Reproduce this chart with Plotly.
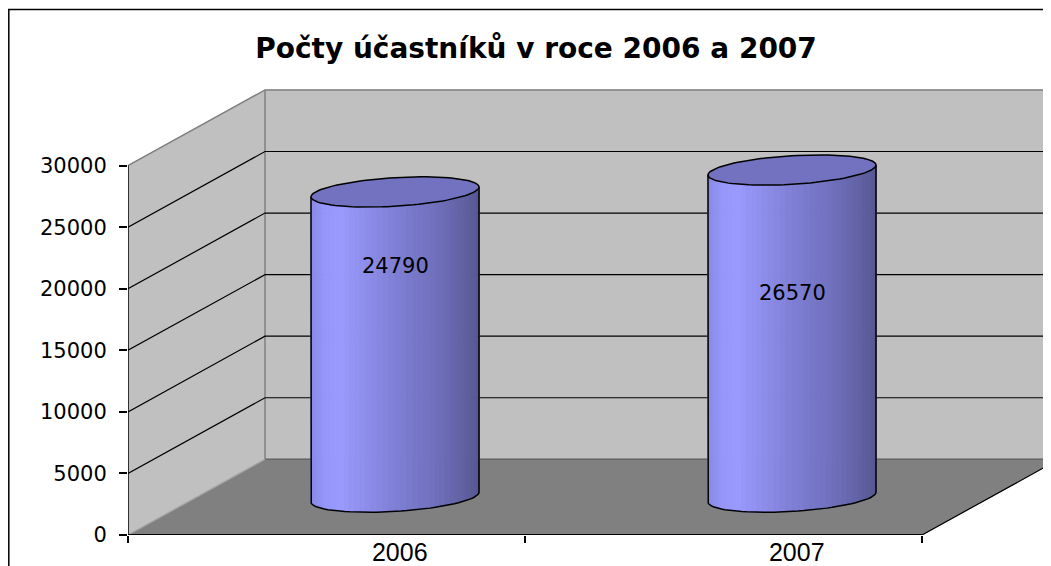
import numpy as np
import plotly.graph_objects as go

# ---------------- data ----------------
categories = ["2006", "2007"]
values = [24790, 26570]
y_ticks = [0, 5000, 10000, 15000, 20000, 25000, 30000]
title_text = "Počty účastníků v roce 2006 a 2007"

# label positions (fraction of bar height) as seen in the reference
label_frac = [0.757, 0.624]

# ---------------- layout geometry ----------------
# the page body has an 8px margin, so the figure is 8px smaller
W, H = 1043, 558
ML, MR, MT, MB = 120, 0, 72, 29
PX_X = 397.0                 # px per category unit
PX_Y = 371.0 / 30000.0       # px per value unit
plot_w = W - ML - MR
plot_h = H - MT - MB
x0 = -0.5
x_end = x0 + len(categories)
xr = [x0, x0 + plot_w / PX_X]
yr = [0, plot_h / PX_Y]
DX = 137.0 / PX_X            # depth offset (x units)
DY = 76.0 / PX_Y             # depth offset (y units)
YMAX = y_ticks[-1]

FONT = "Liberation Sans, Arial, sans-serif"
FONT_W = "DejaVu Sans, Verdana, sans-serif"
WALL = "#C0C0C0"
FLOOR = "#808080"

fig = go.Figure()


def poly(xs, ys, fill=None, line=None, width=1.0, closed=True):
    xs = list(xs)
    ys = list(ys)
    if closed:
        xs.append(xs[0])
        ys.append(ys[0])
    fig.add_trace(go.Scatter(
        x=xs, y=ys, mode="lines",
        fill="toself" if fill else None,
        fillcolor=fill,
        line=dict(color=line if line else (fill or "rgba(0,0,0,0)"),
                  width=width if line else (0.8 if fill else 0)),
        hoverinfo="skip", showlegend=False))


# back wall
poly([x0 + DX, x_end + DX, x_end + DX, x0 + DX],
     [DY, DY, YMAX + DY, YMAX + DY], fill=WALL)
# side wall
poly([x0, x0, x0 + DX, x0 + DX], [0, YMAX, YMAX + DY, DY], fill=WALL)
# floor
poly([x0, x_end, x_end + DX, x0 + DX], [0, 0, DY, DY], fill=FLOOR)

# wall edges
poly([x0, x0 + DX, x_end + DX], [YMAX, YMAX + DY, YMAX + DY],
     line="#808080", width=1.5, closed=False)
poly([x0 + DX, x0 + DX], [DY, YMAX + DY], line="#808080", width=1.5, closed=False)

# gridlines
for v in y_ticks[1:-1]:
    poly([x0, x0 + DX, x_end + DX], [v, v + DY, v + DY],
         line="black", width=1.2, closed=False)

# floor edges
poly([x0 + DX, x_end + DX], [DY, DY], line="#666666", width=1.5, closed=False)
poly([x0, x0 + DX], [0, DY], line="#A8A8A8", width=1.2, closed=False)
poly([x_end, x_end + DX], [0, DY], line="black", width=1.2, closed=False)

# ---------------- cylinders ----------------
A = 0.2          # radius along x (category units)
RZ = 0.2         # radius along depth (fraction of depth)
ZC = 0.5         # depth centre
t0 = np.arctan2(RZ * DX * PX_X, A * PX_X)  # silhouette angle


def cyl_pt(ci, t, h):
    z = ZC + RZ * np.sin(t)
    return ci + A * np.cos(t) + z * DX, h + z * DY


stops_f = [0.0, 0.08, 0.18, 0.5, 0.8, 1.0]
stops_c = [(138, 138, 230), (150, 150, 250), (154, 154, 255),
           (128, 128, 214), (108, 108, 182), (88, 88, 148)]


def shade(f):
    r = np.interp(f, stops_f, [c[0] for c in stops_c])
    g = np.interp(f, stops_f, [c[1] for c in stops_c])
    b = np.interp(f, stops_f, [c[2] for c in stops_c])
    return "rgb(%d,%d,%d)" % (r, g, b)


NS = 44
for i, val in enumerate(values):
    ts = np.linspace(t0 + np.pi, t0 + 2 * np.pi, NS + 1)
    xl, _ = cyl_pt(i, ts[0], 0)
    xrt, _ = cyl_pt(i, ts[-1], 0)
    for k in range(NS):
        ta, tb = ts[k], ts[k + 1]
        xa0, ya0 = cyl_pt(i, ta, 0)
        xb0, yb0 = cyl_pt(i, tb, 0)
        xa1, ya1 = cyl_pt(i, ta, val)
        xb1, yb1 = cyl_pt(i, tb, val)
        xm, _ = cyl_pt(i, 0.5 * (ta + tb), 0)
        f = (xm - xl) / (xrt - xl)
        poly([xa0, xb0, xb1, xa1], [ya0, yb0, yb1, ya1], fill=shade(f))
    # outline of body
    bx, by = cyl_pt(i, ts, 0)
    tx0, ty0 = cyl_pt(i, ts[0], val)
    tx1, ty1 = cyl_pt(i, ts[-1], val)
    poly([tx0] + list(bx) + [tx1], [ty0] + list(by) + [ty1],
         line="black", width=1.5, closed=False)
    # top ellipse
    tt = np.linspace(0, 2 * np.pi, 100)
    ex, ey = cyl_pt(i, tt, val)
    poly(ex, ey, fill="#7272C0", line="black", width=1.5, closed=False)

# front edge and y-axis line
poly([x0, x_end], [0, 0], line="black", width=2, closed=False)
poly([x0, x0], [0, YMAX], line="black", width=1.5, closed=False)

# data labels
for i, val in enumerate(values):
    fig.add_annotation(x=i + ZC * DX, y=val * label_frac[i] + ZC * DY,
                       text=str(val), showarrow=False,
                       font=dict(family=FONT_W, size=21, color="black"))

# outer chart border
fig.add_shape(type="rect", xref="paper", yref="paper",
              x0=(0.8 - ML) / plot_w, x1=1.02,
              y0=-0.2, y1=(H - MB - 1.2) / plot_h,
              line=dict(color="black", width=1.5), fillcolor="rgba(0,0,0,0)")

fig.update_layout(
    width=W, height=H,
    margin=dict(l=ML, r=MR, t=MT, b=MB, pad=0),
    paper_bgcolor="white", plot_bgcolor="white",
    showlegend=False,
    title=dict(text=title_text, x=528 / W, xanchor="center",
               y=1 - 40 / H, yanchor="middle",
               font=dict(family=FONT_W, size=28, color="black", weight="bold")),
    xaxis=dict(range=xr, showgrid=False, zeroline=False, showline=False,
               tickmode="array", tickvals=[x0 + k for k in range(len(categories) + 1)],
               ticktext=["" for _ in range(len(categories) + 1)],
               ticks="outside", ticklen=7, tickwidth=1.5, tickcolor="black",
               fixedrange=True),
    xaxis2=dict(range=xr, overlaying="x", side="bottom", showgrid=False,
                zeroline=False, showline=False, ticks="",
                tickmode="array",
                tickvals=[k + ZC * DX + 0.012 for k in range(len(categories))],
                ticktext=categories,
                tickfont=dict(family=FONT, size=25, color="black"),
                fixedrange=True),
    yaxis=dict(range=yr, showgrid=False, zeroline=False, showline=False,
               tickmode="array", tickvals=y_ticks,
               ticktext=[str(v) for v in y_ticks],
               ticks="outside", ticklen=8, tickwidth=1.5, tickcolor="black",
               tickfont=dict(family=FONT_W, size=21, color="black"),
               ticklabelstandoff=8,
               fixedrange=True),
)

# dummy trace on xaxis2 so that the axis is drawn
fig.add_trace(go.Scatter(x=[xr[0]], y=[0], xaxis="x2", mode="markers",
                         marker=dict(opacity=0), hoverinfo="skip",
                         showlegend=False))

fig.write_html("out.html")
